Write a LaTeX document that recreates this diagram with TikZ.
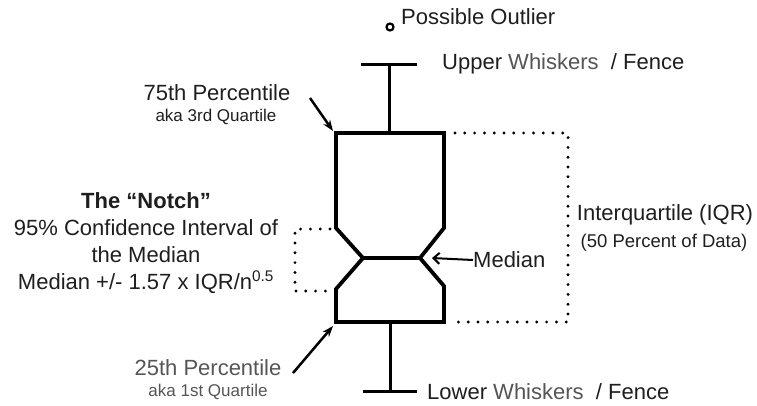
\documentclass[tikz,border=0pt]{standalone}
\usepackage{fontspec}
\setmainfont{Liberation Sans}
\usetikzlibrary{arrows.meta}
\definecolor{dk}{HTML}{1E1E1E}
\definecolor{gr}{HTML}{555555}
\begin{document}
\begin{tikzpicture}[x=1pt,y=-1pt,
  big/.style={font=\fontsize{22}{27}\selectfont, text=dk, inner sep=0pt},
  small/.style={font=\fontsize{17}{20}\selectfont, text=dk, inner sep=0pt},
  boxline/.style={line width=3.8pt, line join=miter},
  whisk/.style={line width=3pt},
  dotline/.style={line width=3.2pt, line cap=round, dash pattern=on 0pt off 9.8pt},
  ptr/.style={line width=2.5pt, -{Stealth[length=11pt,width=8pt]}},
  medptr/.style={line width=2pt, -{Straight Barb[length=6pt,width=11pt]}}]
\useasboundingbox (0,0) rectangle (757,405);
% outlier
\node[circle, draw, line width=2.2pt, inner sep=0pt, minimum size=7pt] (out) at (390,27) {};
\node[big, anchor=west] (outl) at (401,17) {Possible Outlier};
% whiskers
\coordinate (uc) at (389,64);
\coordinate (lc) at (390,391);
\coordinate (bt) at (389,133);
\coordinate (bb) at (390,322);
\draw[whisk] (361,64) -- (417,64);
\draw[whisk] (uc) -- (bt);
\draw[whisk] (363,391) -- (417,391);
\draw[whisk] (bb) -- (lc);
\node[big, anchor=west] (uw) at (442,64) {Upper {\color{gr}Whiskers}\ \ / Fence};
\node[big, anchor=west] (lw) at (427,392) {Lower {\color{gr}Whiskers}\ \ / Fence};
% notched box
\coordinate (q3l) at (336,133);
\coordinate (q3r) at (444,133);
\coordinate (q1l) at (336,322);
\coordinate (q1r) at (444,322);
\coordinate (ml) at (363,258);
\coordinate (mr) at (420,258);
\draw[boxline] (q3l) -- (q3r) -- (444,228) -- (mr) -- (444,286) -- (q1r) -- (q1l) -- (336,289) -- (ml) -- (336,228) -- cycle;
\draw[boxline] (ml) -- (mr);
% median label
\node[big, anchor=west] (med) at (473,260) {Median};
\coordinate (medtip) at (432,258);
\draw[medptr] (med.west) -- (medtip);
% IQR bracket
\draw[dotline] (455,133) -- (568,133) -- (568,322) -- (452,322);
\node[big] (iqr) at (665,215) {Interquartile (IQR)};
\node[font=\fontsize{18.5}{22}\selectfont, text=dk, inner sep=0pt] (iqr2) at (664,243) {(50 Percent of Data)};
% notch bracket
\draw[dotline] (330,229) -- (295,229) -- (295,291) -- (330,291);
\node[big, align=center] (notch) at (146,243) {\textbf{The “Notch”}\\95\% Confidence Interval of\\the Median\\Median +/- 1.57 x IQR/n\textsuperscript{0.5}};
% percentile labels
\node[big] (p75) at (217,93) {75th Percentile};
\node[small] (p75b) at (216,117) {aka 3rd Quartile};
\node[big, text=gr] (p25) at (208,368) {25th Percentile};
\node[small, text=gr] (p25b) at (208,392) {aka 1st Quartile};
\coordinate (a75) at (310,98);
\coordinate (t75) at (333,131);
\coordinate (a25) at (293,373);
\coordinate (t25) at (333,326);
\draw[ptr] (a75) -- (t75);
\draw[ptr] (a25) -- (t25);
\end{tikzpicture}
\end{document}
